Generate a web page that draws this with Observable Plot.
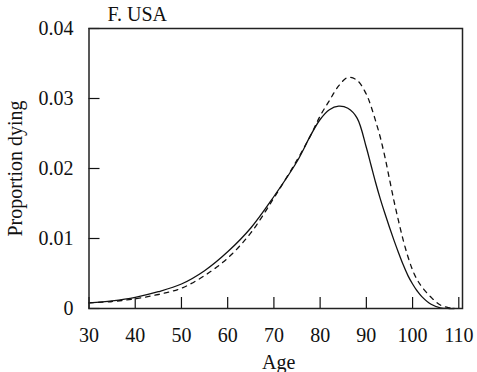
<!DOCTYPE html>
<html>
<head>
<meta charset="utf-8">
<script src="https://cdn.jsdelivr.net/npm/d3@7"></script>
<script src="https://cdn.jsdelivr.net/npm/@observablehq/plot@0.6"></script>
<style>
  html, body { margin: 0; padding: 0; background: #fff; }
  svg { display: block; }
  svg text { font-family: "Liberation Serif", "DejaVu Serif", serif !important; }
</style>
</head>
<body>
<div id="chart"></div>
<script>
const title = "F. USA";
const xLabel = "Age";
const yLabel = "Proportion dying";
const xTicks = [30, 40, 50, 60, 70, 80, 90, 100, 110];
const yTicks = [0, 0.01, 0.02, 0.03, 0.04];

const ages = [30, 35, 40, 45, 50, 55, 60, 65, 70, 75, 78, 80, 82, 84, 86, 88, 90, 91, 92, 93, 94, 95, 96, 97, 98, 99, 100, 101, 102, 104, 106, 108, 109];
const solid = [0.0008, 0.0011, 0.0016, 0.0024, 0.0035, 0.0054, 0.0081, 0.0115, 0.0160, 0.0210, 0.0248, 0.0270, 0.0284, 0.0289, 0.0286, 0.0272, 0.0230, 0.0205, 0.0180, 0.0157, 0.0136, 0.0116, 0.0097, 0.0079, 0.0062, 0.0047, 0.0035, 0.0025, 0.0017, 0.0006, 0.0001, 0.0000, 0.0000];
const dashed = [0.0008, 0.0010, 0.0014, 0.0020, 0.0029, 0.0047, 0.0072, 0.0108, 0.0158, 0.0212, 0.0248, 0.0275, 0.0297, 0.0318, 0.0330, 0.0326, 0.0306, 0.0289, 0.0268, 0.0245, 0.0217, 0.0185, 0.0153, 0.0124, 0.0097, 0.0074, 0.0055, 0.0041, 0.0031, 0.0016, 0.0005, 0.0001, 0.0000];

const solidData = ages.map((a, i) => ({age: a, v: solid[i]}));
const dashedData = ages.map((a, i) => ({age: a, v: dashed[i]}));

const W = 477, H = 372;
const mL = 88.5, mR = 15, mT = 28, mB = 64;
const plotW = W - mL - mR, plotH = H - mT - mB;
const font = "Liberation Serif, DejaVu Serif, serif";

const chart = Plot.plot({
  width: W,
  height: H,
  marginLeft: mL,
  marginRight: mR,
  marginTop: mT,
  marginBottom: mB,
  style: "font-family: 'Liberation Serif', 'DejaVu Serif', serif; font-size: 20px; color: #111; background: #fff;",
  x: {domain: [30, 110.8]},
  y: {domain: [0, 0.04]},
  marks: [
    Plot.axisX(xTicks, {tickSize: 0, tickPadding: 19, fontSize: 20, fontFamily: font, label: null}),
    Plot.axisY(yTicks, {tickSize: 0, tickPadding: 15.5, fontSize: 20, fontFamily: font, label: null,
      tickFormat: d => d === 0 ? "0" : d.toFixed(2)}),
    Plot.tickX(xTicks, {x: d => d, insetTop: plotH - 11, stroke: "#111", strokeWidth: 1.2}),
    Plot.tickY(yTicks, {y: d => d, insetRight: plotW - 11, stroke: "#111", strokeWidth: 1.2}),
    Plot.line(dashedData, {x: "age", y: "v", curve: "catmull-rom", stroke: "#111", strokeWidth: 1.3, strokeDasharray: "4.5,5"}),
    Plot.line(solidData, {x: "age", y: "v", curve: "catmull-rom", stroke: "#111", strokeWidth: 1.3}),
    Plot.frame({stroke: "#222", strokeWidth: 1.5}),
    Plot.text([title], {frameAnchor: "top-left", dx: 18.5, dy: -8, textAnchor: "start", lineAnchor: "bottom", fontSize: 20, fontFamily: font, fill: "#111"}),
    Plot.text([xLabel], {frameAnchor: "bottom", dx: 3, dy: 60, textAnchor: "middle", lineAnchor: "bottom", fontSize: 20, fontFamily: font, fill: "#111"}),
    Plot.text([yLabel], {frameAnchor: "left", dx: -67, rotate: -90, textAnchor: "middle", lineAnchor: "bottom", fontSize: 20, fontFamily: font, fill: "#111"})
  ]
});
document.getElementById("chart").appendChild(chart);
</script>
</body>
</html>
